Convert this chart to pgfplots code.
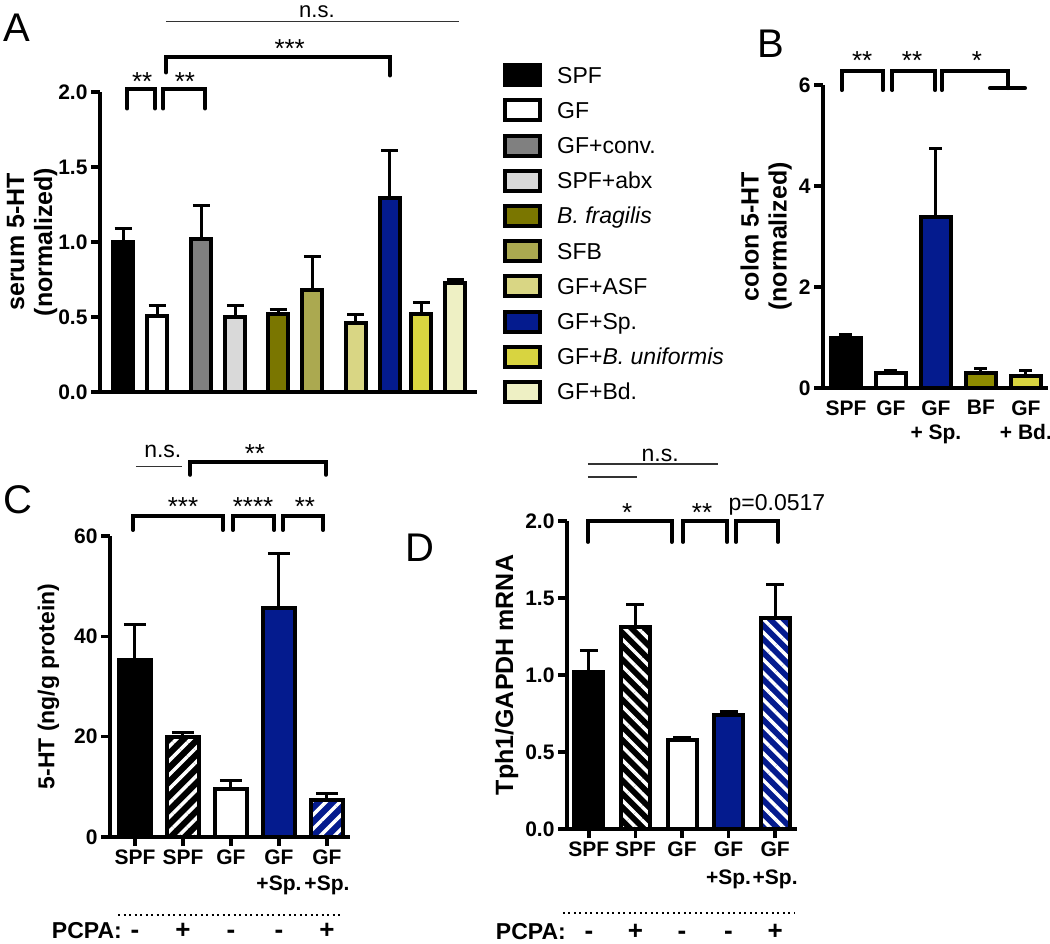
\documentclass[border=0pt]{standalone}
\usepackage{fontspec}
\setmainfont{Liberation Sans}
\usepackage{pgfplots}
\pgfplotsset{compat=1.18}
\usetikzlibrary{patterns.meta}

\definecolor{cconv}{HTML}{808080}
\definecolor{cabx}{HTML}{D9D9D9}
\definecolor{cbfrag}{HTML}{7A7600}
\definecolor{csfb}{HTML}{ABA950}
\definecolor{casf}{HTML}{D9D684}
\definecolor{csp}{HTML}{041B8E}
\definecolor{cbuni}{HTML}{D8D440}
\definecolor{cbd}{HTML}{EEF0C4}

\newcommand{\fz}[1]{\fontsize{#1}{#1}\selectfont}

\pgfplotsset{
  prism/.style={
    scale only axis, anchor=south west, clip=false,
    axis lines=left, axis line style={line width=4pt, -},
    tick align=outside, major tick length=9pt,
    tick style={line width=3.5pt, black},
    ticklabel style={font=\bfseries\fz{21}},
    ylabel style={font=\bfseries\fontsize{25}{28}\selectfont, align=center},
  },
  mybar/.style={ybar, bar shift=0pt, draw=black, line width=4pt, forget plot,
    error bars/y dir=plus, error bars/y explicit,
    error bars/error bar style={line width=3pt, black, solid},
    error bars/error mark options={rotate=90, mark size=#1, line width=3pt, black}},
  lg/.style={legend image code/.code={\draw[fill=#1,draw=black,line width=4pt] (0pt,-2pt) rectangle (35pt,18pt);}},
}
\tikzset{brk/.style={line width=4pt, line cap=round, line join=miter},
  thin/.style={line width=1.2pt, black!80},
  sgn/.style={anchor=base, font=\bfseries\fz{26}}}

\begin{document}
\begin{tikzpicture}
\path[use as bounding box] (0pt,0pt) rectangle (1050pt,-944pt);

% ---------------- A ----------------
\begin{axis}[prism, at={(100pt,-392pt)}, width=377pt, height=300pt,
  xmin=-0.68, xmax=10.41, ymin=0, ymax=2, bar width=20pt,
  xtick=\empty, ytick={0,0.5,1,1.5,2}, yticklabels={0.0,0.5,1.0,1.5,2.0},
  ylabel={serum 5-HT\\(normalized)}, ylabel shift=-6pt,
  legend style={at={(1.069,1.0967)}, anchor=north west, draw=none, fill=none,
    inner sep=0pt, column sep=15pt, row sep=10.2pt,
    nodes={inner sep=0pt, text height=20pt, text depth=5pt, anchor=base west},
    font=\fontsize{23}{26}\selectfont},
  legend cell align=left]
\addplot[mybar=8.5pt, fill=black] coordinates {(0,1.00) +- (0,0.09)};
\addplot[mybar=8.5pt, fill=white] coordinates {(1,0.51) +- (0,0.07)};
\addplot[mybar=8.5pt, fill=cconv] coordinates {(2.3,1.02) +- (0,0.22)};
\addplot[mybar=8.5pt, fill=cabx] coordinates {(3.3,0.50) +- (0,0.08)};
\addplot[mybar=8.5pt, fill=cbfrag] coordinates {(4.57,0.52) +- (0,0.03)};
\addplot[mybar=8.5pt, fill=csfb] coordinates {(5.57,0.68) +- (0,0.22)};
\addplot[mybar=8.5pt, fill=casf] coordinates {(6.85,0.46) +- (0,0.06)};
\addplot[mybar=8.5pt, fill=csp] coordinates {(7.85,1.29) +- (0,0.32)};
\addplot[mybar=8.5pt, fill=cbuni] coordinates {(8.77,0.52) +- (0,0.08)};
\addplot[mybar=8.5pt, fill=cbd] coordinates {(9.77,0.73) +- (0,0.02)};
\addlegendimage{lg=black}\addlegendentry{SPF}
\addlegendimage{lg=white}\addlegendentry{GF}
\addlegendimage{lg=cconv}\addlegendentry{GF+conv.}
\addlegendimage{lg=cabx}\addlegendentry{SPF+abx}
\addlegendimage{lg=cbfrag}\addlegendentry{\textit{B. fragilis}}
\addlegendimage{lg=csfb}\addlegendentry{SFB}
\addlegendimage{lg=casf}\addlegendentry{GF+ASF}
\addlegendimage{lg=csp}\addlegendentry{GF+Sp.}
\addlegendimage{lg=cbuni}\addlegendentry{GF+\textit{B. uniformis}}
\addlegendimage{lg=cbd}\addlegendentry{GF+Bd.}
% annotations
\draw[brk] (axis cs:0.12,1.89) -- (axis cs:0.12,2.02) -- (axis cs:0.94,2.02) -- (axis cs:0.94,1.89);
\draw[brk] (axis cs:1.18,1.89) -- (axis cs:1.18,2.02) -- (axis cs:2.41,2.02) -- (axis cs:2.41,1.89);
\draw[brk] (axis cs:1.26,2.13) -- (axis cs:1.26,2.23) -- (axis cs:7.85,2.23) -- (axis cs:7.85,2.11);
\draw[thin] (axis cs:1.26,2.47) -- (axis cs:9.88,2.47);
\node[anchor=base, font=\fz{26}] at (axis cs:0.56,2.01) {**};
\node[anchor=base, font=\fz{26}] at (axis cs:1.82,2.01) {**};
\node[anchor=base, font=\fz{26}] at (axis cs:4.9,2.23) {***};
\node[anchor=base, font=\fz{22}, inner sep=0pt] at (axis cs:5.7,2.497) {n.s.};
\end{axis}

% ---------------- B ----------------
\begin{axis}[prism, at={(823pt,-388pt)}, width=225pt, height=303pt,
  xmin=-0.51, xmax=4.49, ymin=0, ymax=6, bar width=30pt,
  ytick={0,2,4,6}, yticklabels={0,2,4,6},
  xtick={0,1,2,3,4}, xticklabels={SPF,GF,{GF\\+ Sp.},BF,{GF\\+ Bd.}},
  xtick style={draw=none},
  xticklabel style={align=center, anchor=north, font=\bfseries\fontsize{21}{24}\selectfont},
  ylabel={colon 5-HT\\(normalized)}]
\addplot[mybar=6.5pt, fill=black] coordinates {(0,1.00) +- (0,0.05)};
\addplot[mybar=6.5pt, fill=white] coordinates {(1,0.30) +- (0,0.04)};
\addplot[mybar=6.5pt, fill=csp] coordinates {(2,3.38) +- (0,1.37)};
\addplot[mybar=6.5pt, fill=cbfrag!85!yellow] coordinates {(3,0.30) +- (0,0.09)};
\addplot[mybar=6.5pt, fill=cbuni] coordinates {(4,0.23) +- (0,0.12)};
\draw[brk] (axis cs:-0.09,5.9) -- (axis cs:-0.09,6.28) -- (axis cs:0.82,6.28) -- (axis cs:0.82,5.9);
\draw[brk] (axis cs:1.03,5.9) -- (axis cs:1.03,6.28) -- (axis cs:1.98,6.28) -- (axis cs:1.98,5.9);
\draw[brk] (axis cs:2.13,5.9) -- (axis cs:2.13,6.28) -- (axis cs:3.6,6.28) -- (axis cs:3.6,5.94);
\draw[brk] (axis cs:3.2,5.94) -- (axis cs:3.98,5.94);
\node[anchor=base, font=\fz{26}] at (axis cs:0.36,6.3) {**};
\node[anchor=base, font=\fz{26}] at (axis cs:1.47,6.3) {**};
\node[anchor=base, font=\fz{26}] at (axis cs:2.91,6.3) {*};
\end{axis}

% ---------------- C ----------------
\begin{axis}[prism, at={(110pt,-837pt)}, width=240pt, height=301pt,
  xmin=-0.52, xmax=4.48, ymin=0, ymax=60, bar width=32pt,
  ytick={0,20,40,60}, yticklabels={0,20,40,60},
  xtick={0,1,2,3,4}, xticklabels={SPF,SPF,GF,{GF\\+Sp.},{GF\\+Sp.}},
  xticklabel style={align=center, anchor=north, font=\bfseries\fontsize{21}{26}\selectfont},
  ylabel={5-HT (ng/g protein)}, ylabel style={font=\bfseries\fz{23}}, ylabel shift=8pt]
\addplot[mybar=11pt, fill=black] coordinates {(0,35.3) +- (0,7.1)};
\addplot[mybar=11pt, preaction={fill=black}, pattern={Lines[angle=45,distance=10pt,line width=3.5pt]}, pattern color=white] coordinates {(1,20.0) +- (0,0.8)};
\addplot[mybar=11pt, fill=white] coordinates {(2,9.6) +- (0,1.7)};
\addplot[mybar=11pt, fill=csp] coordinates {(3,45.6) +- (0,11.0)};
\addplot[mybar=11pt, preaction={fill=csp}, pattern={Lines[angle=45,distance=10pt,line width=3.5pt]}, pattern color=white] coordinates {(4,7.3) +- (0,1.3)};
\draw[brk] (axis cs:-0.04,61.2) -- (axis cs:-0.04,64.0) -- (axis cs:1.83,64.0) -- (axis cs:1.83,61.2);
\draw[brk] (axis cs:2.04,61.2) -- (axis cs:2.04,64.0) -- (axis cs:2.9,64.0) -- (axis cs:2.9,61.2);
\draw[brk] (axis cs:3.08,61.2) -- (axis cs:3.08,64.0) -- (axis cs:3.92,64.0) -- (axis cs:3.92,61.2);
\draw[brk] (axis cs:1.15,72.2) -- (axis cs:1.15,74.7) -- (axis cs:3.98,74.7) -- (axis cs:3.98,72.2);
\draw[thin] (axis cs:0.02,73.9) -- (axis cs:0.98,73.9);
\node[anchor=base, font=\fz{26}] at (axis cs:1.0,64.0) {***};
\node[anchor=base, font=\fz{26}] at (axis cs:2.46,64.0) {****};
\node[anchor=base, font=\fz{26}] at (axis cs:3.54,64.0) {**};
\node[anchor=base, font=\fz{26}] at (axis cs:2.5,74.7) {**};
\node[anchor=base, font=\fz{23}] at (axis cs:0.58,75.7) {n.s.};
\draw[line width=2pt, dash pattern=on 2pt off 3.5pt] (axis cs:-0.35,-15.55) -- (axis cs:4.33,-15.55);
\node[anchor=base east, font=\bfseries\fz{23}] at (axis cs:-0.2,-20.3) {PCPA:};
\node[sgn] at (axis cs:0,-20.3) {-};
\node[sgn] at (axis cs:1,-20.3) {+};
\node[sgn] at (axis cs:2,-20.3) {-};
\node[sgn] at (axis cs:3,-20.3) {-};
\node[sgn] at (axis cs:4,-20.3) {+};
\end{axis}

% ---------------- D ----------------
\begin{axis}[prism, at={(567pt,-829pt)}, width=230pt, height=308pt,
  xmin=-0.47, xmax=4.47, ymin=0, ymax=2, bar width=29pt,
  ytick={0,0.5,1,1.5,2}, yticklabels={0.0,0.5,1.0,1.5,2.0},
  xtick={0,1,2,3,4}, xticklabels={SPF,SPF,GF,{GF\\+Sp.},{GF\\+Sp.}},
  xticklabel style={align=center, anchor=north, font=\bfseries\fontsize{21}{28}\selectfont},
  ylabel={Tph1/GAPDH mRNA}, ylabel style={font=\bfseries\fz{25}}]
\addplot[mybar=9pt, fill=black] coordinates {(0,1.02) +- (0,0.14)};
\addplot[mybar=9pt, preaction={fill=black}, pattern={Lines[angle=-45,distance=9.5pt,line width=3.5pt]}, pattern color=white] coordinates {(1,1.31) +- (0,0.15)};
\addplot[mybar=9pt, fill=white] coordinates {(2,0.58) +- (0,0.015)};
\addplot[mybar=9pt, fill=csp] coordinates {(3,0.74) +- (0,0.025)};
\addplot[mybar=9pt, preaction={fill=csp}, pattern={Lines[angle=-45,distance=9.5pt,line width=3.5pt]}, pattern color=white] coordinates {(4,1.37) +- (0,0.22)};
\draw[brk] (axis cs:-0.02,1.864) -- (axis cs:-0.02,2.0) -- (axis cs:1.78,2.0) -- (axis cs:1.78,1.864);
\draw[brk] (axis cs:2.02,1.864) -- (axis cs:2.02,2.0) -- (axis cs:2.97,2.0) -- (axis cs:2.97,1.864);
\draw[brk] (axis cs:3.16,1.864) -- (axis cs:3.16,2.0) -- (axis cs:4.06,2.0) -- (axis cs:4.06,1.864);
\draw[thin] (axis cs:-0.02,2.37) -- (axis cs:2.77,2.37);
\draw[thin] (axis cs:-0.02,2.286) -- (axis cs:1.03,2.286);
\node[anchor=base, font=\fz{26}] at (axis cs:0.82,2.0) {*};
\node[anchor=base, font=\fz{26}] at (axis cs:2.43,2.0) {**};
\node[anchor=base, font=\fz{23}] at (axis cs:4.04,2.07) {p=0.0517};
\node[anchor=base, font=\fz{23}] at (axis cs:1.53,2.385) {n.s.};
\draw[line width=2pt, dash pattern=on 2pt off 3.5pt] (axis cs:-0.56,-0.545) -- (axis cs:4.43,-0.545);
\node[anchor=base east, font=\bfseries\fz{23}] at (axis cs:-0.42,-0.72) {PCPA:};
\node[sgn] at (axis cs:0,-0.72) {-};
\node[sgn] at (axis cs:1,-0.72) {+};
\node[sgn] at (axis cs:2,-0.72) {-};
\node[sgn] at (axis cs:3,-0.72) {-};
\node[sgn] at (axis cs:4,-0.72) {+};
\end{axis}

\node[font=\fz{40}] at (17pt,-28pt) {A};
\node[font=\fz{40}] at (771pt,-44pt) {B};
\node[font=\fz{40}] at (18pt,-500pt) {C};
\node[font=\fz{40}] at (420pt,-548pt) {D};
\end{tikzpicture}
\end{document}
